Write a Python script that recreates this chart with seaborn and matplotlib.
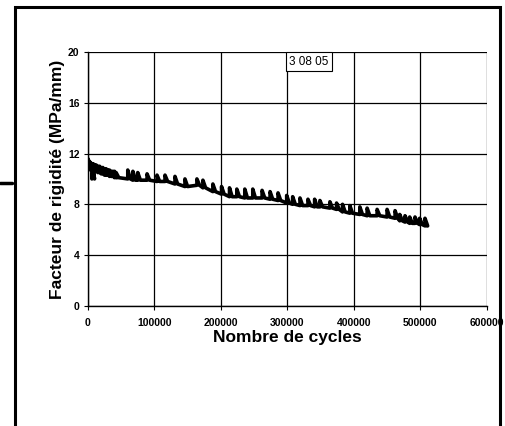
import numpy as np
import pandas as pd
import matplotlib
matplotlib.use("Agg")
import matplotlib.pyplot as plt
import seaborn as sns

# Rest-period teeth of the stiffness record: cycle count at each rest,
# stiffness just before the rest and stiffness right after it (MPa/mm)
tooth_cycles = [0, 2000, 4000, 6000, 8000, 10000, 12500, 15000, 17500, 20000,
                22500, 25000, 27500, 30000, 32500, 35000, 37500, 40000, 42500,
                60000, 67700, 75000, 89000, 104000, 116000, 131000, 146000,
                164000, 173000, 188000, 201000, 213000, 224000, 236000, 248000,
                262000, 274000, 286000, 299000, 308000, 319000, 331000, 341000,
                349000, 364000, 374000, 383000, 394000, 409000, 420000, 435000,
                450000, 462000, 469000, 477000, 484000, 492000, 499000, 507000]
tooth_low = [11.0, 10.8, 10.7, 10.0, 10.7, 10.6, 10.6, 10.5, 10.5, 10.4,
             10.4, 10.3, 10.3, 10.3, 10.2, 10.2, 10.2, 10.1, 10.1,
             10.0, 9.9, 9.9, 9.9, 9.8, 9.8, 9.6, 9.4,
             9.5, 9.3, 9.0, 8.8, 8.6, 8.6, 8.5, 8.5,
             8.5, 8.4, 8.3, 8.1, 8.0, 7.9, 7.9, 7.8,
             7.8, 7.7, 7.6, 7.4, 7.3, 7.2, 7.1, 7.1,
             7.0, 6.9, 6.7, 6.6, 6.5, 6.5, 6.4, 6.3]
tooth_high = [11.6, 11.4, 11.3, 11.2, 11.2, 11.1, 11.1, 11.0, 11.0, 10.9,
              10.9, 10.8, 10.8, 10.7, 10.7, 10.6, 10.6, 10.6, 10.5,
              10.7, 10.6, 10.5, 10.4, 10.3, 10.3, 10.2, 10.0,
              10.0, 9.9, 9.6, 9.4, 9.3, 9.2, 9.2, 9.2,
              9.1, 9.0, 8.9, 8.7, 8.6, 8.5, 8.4, 8.4,
              8.3, 8.2, 8.1, 8.0, 7.9, 7.8, 7.7, 7.6,
              7.6, 7.5, 7.2, 7.1, 7.0, 7.0, 6.9, 6.9]
last_cycle = 510000
last_value = 6.3

x_ticks = [0, 100000, 200000, 300000, 400000, 500000, 600000]
y_ticks = [0, 4, 8, 12, 16, 20]
sample_label = "3 08 05"

# Build the polyline: jump up at each rest, quick recovery back to the trend
tooth_width = 4000
xs, ys = [], []
for c, lo, hi in zip(tooth_cycles, tooth_low, tooth_high):
    xs += [c, c, c + tooth_width]
    ys += [lo, hi, lo]
xs.append(last_cycle)
ys.append(last_value)
df = pd.DataFrame({"cycles": xs, "rigidite": ys})

sns.set_style("white")
plt.rcParams["font.family"] = ["Liberation Sans", "DejaVu Sans"]
plt.rcParams["text.color"] = "black"
plt.rcParams["axes.labelcolor"] = "black"
plt.rcParams["xtick.color"] = "black"
plt.rcParams["ytick.color"] = "black"

fig = plt.figure(figsize=(5.05, 4.26), dpi=100)
ax = fig.add_axes([0.174, 0.282, 0.790, 0.596])

sns.lineplot(data=df, x="cycles", y="rigidite", sort=False, estimator=None,
             color="black", linewidth=2.6, ax=ax)

ax.set_xlim(0, 600000)
ax.set_ylim(0, 20)
ax.set_xticks(x_ticks)
ax.set_yticks(y_ticks)
ax.set_xticklabels([str(v) for v in x_ticks], fontsize=7.5, fontweight="heavy")
ax.set_yticklabels([str(v) for v in y_ticks], fontsize=7.5, fontweight="heavy")
ax.tick_params(axis="x", direction="out", length=3, width=0.8,
               color="black", labelcolor="black", pad=6, bottom=True)
ax.tick_params(axis="y", direction="out", length=3, width=0.8,
               color="black", labelcolor="black", pad=3, left=True)

ax.grid(True, color="black", linewidth=0.9)
ax.set_axisbelow(True)
for side in ["top", "right"]:
    ax.spines[side].set_visible(False)
for side in ["left", "bottom"]:
    ax.spines[side].set_color("black")
    ax.spines[side].set_linewidth(1.0)

ax.set_xlabel("Nombre de cycles", fontsize=12.5, fontweight="bold",
              color="black", labelpad=1)
ax.set_ylabel("Facteur de rigidité (MPa/mm)", fontsize=12.5, fontweight="bold",
              color="black", labelpad=2)

ax.text(303000, 19.7, sample_label, fontsize=8.5, ha="left", va="top",
        color="black",
        bbox=dict(boxstyle="square,pad=0.3", facecolor="white",
                  edgecolor="black", linewidth=0.8))

# Frame around the chart and the lead-in arrow on the left
frame = plt.Rectangle((15 / 505, -0.02), (500 - 15) / 505, 1 - 7 / 426 + 0.02,
                      transform=fig.transFigure, fill=False,
                      edgecolor="black", linewidth=2.2, clip_on=False)
fig.add_artist(frame)
fig.add_artist(plt.Line2D([0.0, 12 / 505], [1 - 183 / 426, 1 - 183 / 426],
                          transform=fig.transFigure, color="black",
                          linewidth=2.5))

fig.savefig("out.png", dpi=100)
